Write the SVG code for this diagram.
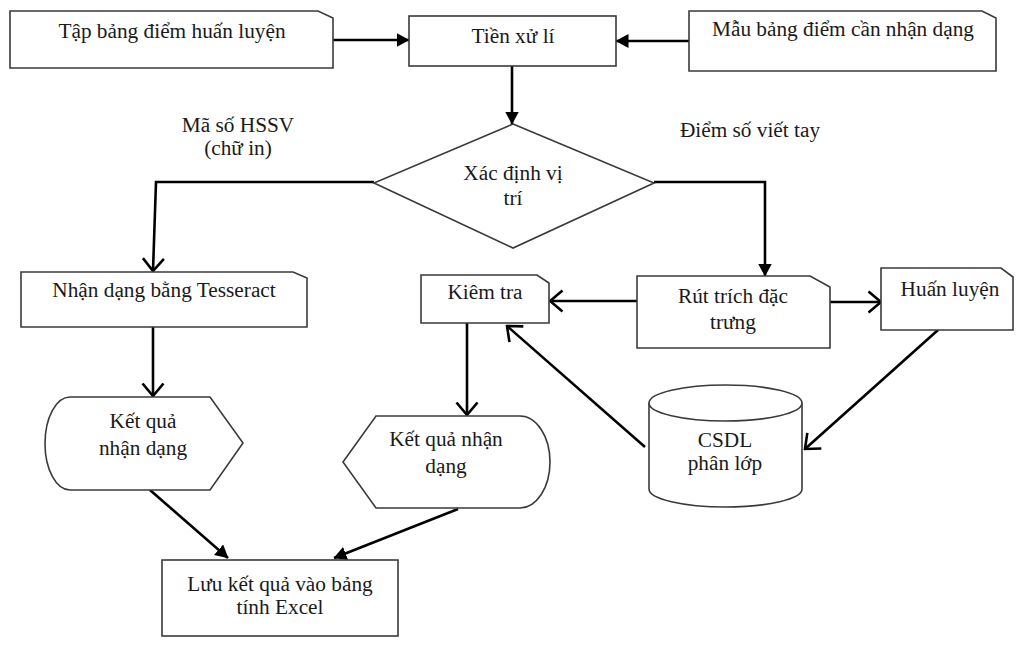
<svg xmlns="http://www.w3.org/2000/svg" width="1017" height="646" viewBox="0 0 1017 646">
<style>
.n{fill:#fff;stroke:#3a3a3a;stroke-width:1.6}
.t{font-family:"Liberation Serif","Times New Roman",serif;font-size:21.3px;fill:#1a1a1a;text-anchor:middle}
.c{fill:none;stroke:#000;stroke-width:2.6}
.f{marker-end:url(#fa)}
.o{marker-end:url(#oa)}
</style>
<defs>
<marker id="fa" markerUnits="userSpaceOnUse" viewBox="0 0 13 14" refX="12.5" refY="7" markerWidth="13" markerHeight="14" orient="auto"><path d="M0,0 L13,7 L0,14 Z" fill="#000"/></marker>
<marker id="oa" markerUnits="userSpaceOnUse" viewBox="0 0 15 24" refX="13.5" refY="12" markerWidth="15" markerHeight="24" orient="auto"><path d="M1,1.5 L13.5,12 L1,22.5" fill="none" stroke="#000" stroke-width="2.6"/></marker>
</defs>
<rect width="1017" height="646" fill="#fff"/>
<g id="connectors">
<path class="c f" d="M333,40 H409"/>
<path class="c f" d="M689,41 H616"/>
<path class="c f" d="M512,66 V124"/>
<path class="c o" d="M374,182 H156 L153,271"/>
<path class="c f" d="M654,182 H765 V276"/>
<path class="c o" d="M637,301 H550"/>
<path class="c o" d="M830,302 H881"/>
<path class="c o" d="M938,330 L805,449"/>
<path class="c o" d="M645,447 L507,326"/>
<path class="c o" d="M467,323 V415"/>
<path class="c o" d="M153,327 V396"/>
<path class="c f" d="M150,490 L228,558"/>
<path class="c f" d="M458,509 L334,558"/>
</g>
<g id="n1"><path class="n" d="M10,11 H318 L333,18 V68 H10 Z"/><text class="t" x="172" y="38">Tập bảng điểm huấn luyện</text></g>
<g id="n2"><rect class="n" x="409" y="16" width="207" height="50"/><text class="t" x="513" y="43">Tiền xử lí</text></g>
<g id="n3"><path class="n" d="M689,11 H982 L996,18 V71 H689 Z"/><text class="t" x="843" y="36">Mẫu bảng điểm cần nhận dạng</text></g>
<g id="lbl1"><text class="t" x="238" y="132">Mã số HSSV</text><text class="t" x="238" y="155">(chữ in)</text></g>
<g id="lbl2"><text class="t" x="750" y="137">Điểm số viết tay</text></g>
<g id="n4"><polygon class="n" points="513,124 654,183 513,248 374,183"/><text class="t" x="513" y="180">Xác định vị</text><text class="t" x="513" y="205">trí</text></g>
<g id="n5"><path class="n" d="M21,272 H293 L307,278 V327 H21 Z"/><text class="t" x="164" y="297">Nhận dạng bằng Tesseract</text></g>
<g id="n6"><path class="n" d="M421,275 H537 L549,283 V323 H421 Z"/><text class="t" x="485" y="299">Kiêm tra</text></g>
<g id="n7"><path class="n" d="M637,276 H810 L830,287 V348 H637 Z"/><text class="t" x="733" y="303">Rút trích đặc</text><text class="t" x="733" y="329">trưng</text></g>
<g id="n8"><path class="n" d="M881,268 H1001 L1013,277 V330 H881 Z"/><text class="t" x="950" y="296">Huấn luyện</text></g>
<g id="n9"><path class="n" d="M649,403 A76.5,18 0 0,1 802,403 V489 A76.5,18 0 0,1 649,489 Z"/><path class="n" fill="none" d="M649,403 A76.5,18 0 0,0 802,403"/><text class="t" x="725" y="447">CSDL</text><text class="t" x="725" y="470">phân lớp</text></g>
<g id="n10"><path class="n" d="M70,397 H210 L243,443 L210,490 H70 A25,46.5 0 0,1 70,397 Z"/><text class="t" x="143" y="428">Kết quả</text><text class="t" x="143" y="455">nhận dạng</text></g>
<g id="n11"><path class="n" d="M343,462 L376,416 H520 A30,46 0 0,1 520,508 H376 Z"/><text class="t" x="446" y="446">Kết quả nhận</text><text class="t" x="446" y="473">dạng</text></g>
<g id="n12"><rect class="n" x="162" y="560" width="236" height="76"/><text class="t" x="280" y="591">Lưu kết quả vào bảng</text><text class="t" x="280" y="614">tính Excel</text></g>
</svg>
